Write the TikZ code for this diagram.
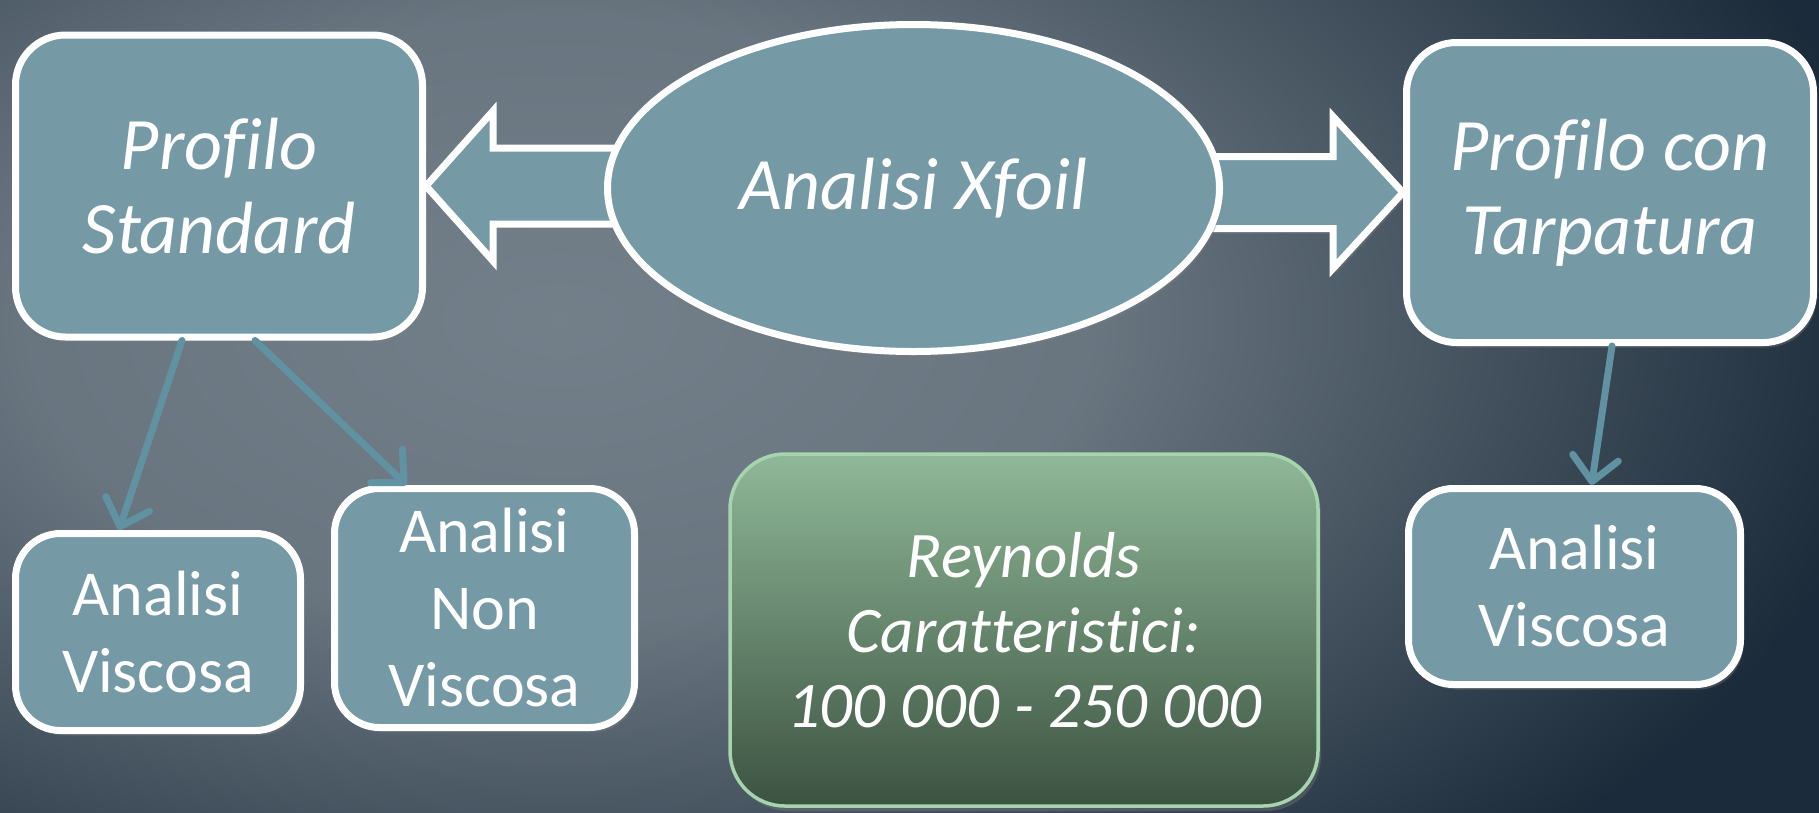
\documentclass[tikz,border=0pt]{standalone}
\usepackage{fontspec}
\setmainfont[Ligatures={NoCommon}]{Carlito}
\usetikzlibrary{arrows.meta,shapes.geometric,shadows,calc}
\pgfdeclareradialshading{bgshade}{\pgfpoint{0bp}{0bp}}{rgb(0bp)=(0.45,0.50,0.54); rgb(10bp)=(0.41,0.46,0.50); rgb(25bp)=(0.11,0.17,0.23); rgb(50bp)=(0.11,0.17,0.23)}
\definecolor{bgout}{rgb}{0.11,0.17,0.23}
\definecolor{boxfill}{RGB}{117,154,166}
\definecolor{connc}{RGB}{96,146,162}
\definecolor{reyntop}{RGB}{143,184,152}
\definecolor{reynbot}{RGB}{60,82,65}
\definecolor{reynborder}{RGB}{165,212,175}
\pgfdeclarelayer{bg}
\pgfdeclarelayer{back}
\pgfsetlayers{bg,back,main}
\tikzset{
  boxshadow/.style={drop shadow={opacity=0.35, shadow xshift=3pt, shadow yshift=-5pt}},
  bluebox/.style={draw=white, line width=7pt, fill=boxfill, rounded corners=50pt,
    inner sep=0pt, align=center, text=white, boxshadow},
  bigtext/.style={font=\fontsize{74}{84}\selectfont\itshape},
  smalltext/.style={font=\fontsize{64}{77}\selectfont},
  ovalnode/.style={ellipse, draw=white, line width=7pt, fill=boxfill, inner sep=0pt,
    align=center, text=white, boxshadow},
  reynbox/.style={draw=reynborder, line width=3.5pt, top color=reyntop, bottom color=reynbot,
    rounded corners=55pt, inner sep=0pt, align=center, text=white,
    font=\fontsize{65}{75}\selectfont\itshape, boxshadow},
  bigarrow/.style={draw=white, line width=7pt, fill=boxfill, line join=miter, boxshadow},
  conn/.style={draw=connc, line width=7pt, line cap=round,
    -{Straight Barb[length=24pt, width=46pt, line cap=round, line join=round]}}
}
\begin{document}
\begin{tikzpicture}[x=1pt, y=-1pt]
\useasboundingbox (0,0) rectangle (1819,812);
\begin{pgfonlayer}{bg}
\fill[bgout] (-20,-20) rectangle (1840,840);
\shade[shading=bgshade] (560,320) ellipse [x radius=1340, y radius=760];
\end{pgfonlayer}

\node[bluebox, bigtext, minimum width=407pt, minimum height=302pt] (ps) at (219,186) {Profilo\\Standard};
\node[ovalnode, bigtext, minimum width=612pt, minimum height=327pt] (xf) at (913.5,188) {Analisi Xfoil};
\node[bluebox, bigtext, minimum width=407pt, minimum height=300pt] (pt) at (1610,192.5) {Profilo con\\Tarpatura};
\node[bluebox, smalltext, minimum width=285pt, minimum height=197pt, rounded corners=45pt] (av1) at (158,632) {Analisi\\Viscosa};
\node[bluebox, smalltext, minimum width=300pt, minimum height=239pt, rounded corners=45pt] (anv) at (484.5,608) {Analisi\\Non\\Viscosa};
\node[reynbox, minimum width=588pt, minimum height=352pt] (rey) at (1024,630) {Reynolds\\Caratteristici:\\100 000 - 250 000};
\node[bluebox, smalltext, minimum width=332pt, minimum height=196pt, rounded corners=45pt] (av2) at (1574.5,586.5) {Analisi\\Viscosa};

\begin{pgfonlayer}{back}
\draw[bigarrow] (ps.east) -- ++(67,-75) -- ++(0,37) -- ++(260,0) -- ++(0,76) -- ++(-260,0) -- ++(0,37) -- cycle;
\draw[bigarrow] (pt.west) -- ++(-70,-76) -- ++(0,40) -- ++(-260,0) -- ++(0,72) -- ++(260,0) -- ++(0,40) -- cycle;
\end{pgfonlayer}

\draw[conn] ([xshift=-37pt]ps.south) -- ([xshift=-39pt]av1.north);
\draw[conn] ([xshift=36pt]ps.south) -- ([xshift=-78pt]anv.north);
\draw[conn] ([xshift=2pt]pt.south) -- ([xshift=17pt]av2.north);
\end{tikzpicture}
\end{document}
